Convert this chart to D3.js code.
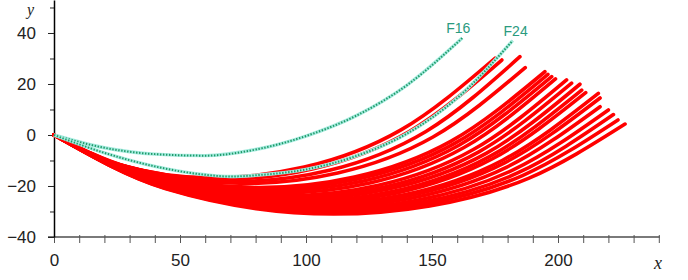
<!DOCTYPE html>
<html>
<head>
<meta charset="utf-8">
<script src="https://cdn.jsdelivr.net/npm/d3@7"></script>
<style>
  body { margin: 0; background: #fff; }
  svg { display: block; }
  .tick text { font-family: "Liberation Sans", Arial, sans-serif; font-size: 17px; fill: #222; }
</style>
</head>
<body>
<div id="chart"></div>
<script>
// axis ticks
const xMajorTicks = [0, 50, 100, 150, 200];
const xMinorTicks = d3.range(0, 241, 10);
const yMajorTicks = [-40, -20, 0, 20, 40];
const yMinorTicks = [-30, -10, 10, 30, 50];

// dotted reference curves
const f16X = [0, 20, 40, 60, 80, 100, 120, 140, 162];
const f16Y = [0, -5, -7.5, -8.1, -5.7, -0.4, 7.6, 19.5, 38];
const f24X = [0, 20, 40, 60, 70, 80, 100, 120, 140, 160, 182];
const f24Y = [0, -7, -12.3, -15.6, -16.3, -15.8, -13.5, -8.2, 0.5, 14.5, 37];
const greenNames = ['F16', 'F24'];
const greenLabelShift = [-4, 3]; // label offset from line end, in px

// red trajectories: start, left side, lowest point, two points on the rise, end
const redCurves = [
  [[0, 0], [24.8, -11.4], [62, -16.8], [99.3, -12.6], [137.7, 2.0], [175.0, 30.1]],
  [[0, 0], [26.4, -11.8], [66, -17.4], [102.9, -13.2], [140.8, 1.3], [177.7, 29.4]],
  [[0, 0], [28.8, -12.4], [72, -18.2], [109.3, -13.8], [147.6, 1.4], [184.9, 30.7]],
  [[0, 0], [30.4, -12.9], [76, -19.0], [112.6, -14.9], [150.4, -0.8], [187.0, 26.4]],
  [[0, 0], [32.8, -14.0], [82, -20.6], [119.2, -16.5], [157.6, -2.4], [194.8, 24.8]],
  [[0, 0], [33.6, -14.5], [84, -21.3], [121.0, -17.2], [159.0, -3.3], [196.0, 23.8]],
  [[0, 0], [34.4, -15.0], [86, -22.0], [122.8, -18.0], [160.7, -4.0], [197.5, 22.9]],
  [[0, 0], [35.6, -15.5], [89, -22.8], [125.3, -18.8], [162.7, -4.9], [199.0, 22.0]],
  [[0, 0], [36.8, -16.2], [92, -23.8], [128.8, -19.7], [166.6, -5.6], [203.4, 21.6]],
  [[0, 0], [37.6, -16.7], [94, -24.5], [130.8, -20.5], [168.6, -6.6], [205.4, 20.3]],
  [[0, 0], [38.4, -17.1], [96, -25.2], [133.2, -21.1], [171.5, -7.2], [208.7, 19.9]],
  [[0, 0], [39.2, -17.7], [98, -26.0], [134.8, -22.1], [172.6, -8.6], [209.4, 17.6]],
  [[0, 0], [39.6, -18.1], [99, -26.6], [136.0, -22.7], [174.0, -9.3], [211.0, 16.6]],
  [[0, 0], [40.4, -18.6], [101, -27.3], [139.0, -23.4], [178.0, -9.9], [216.0, 16.3]],
  [[0, 0], [40.8, -18.9], [102, -27.8], [139.9, -24.0], [178.8, -10.9], [216.7, 14.5]],
  [[0, 0], [41.6, -19.4], [104, -28.5], [141.2, -24.9], [179.5, -12.7], [216.7, 11.1]],
  [[0, 0], [42.4, -19.9], [106, -29.2], [143.6, -25.7], [182.4, -13.6], [220.0, 9.8]],
  [[0, 0], [43.2, -20.3], [108, -29.8], [145.6, -26.4], [184.4, -14.7], [222.0, 8.0]],
  [[0, 0], [43.6, -20.7], [109, -30.4], [146.9, -27.1], [185.9, -15.9], [223.8, 5.9]],
  [[0, 0], [44.4, -21.1], [111, -31.0], [149.1, -27.8], [188.5, -16.9], [226.6, 4.3]]
];

const width = 688;
const height = 280;

const svg = d3.select('#chart')
  .append('svg')
  .attr('width', width)
  .attr('height', height);

const x = d3.scaleLinear().domain([0, 240]).range([54, 658.8]);
const y = d3.scaleLinear().domain([-40, 52.94]).range([237, 0]);

const fmt = (d) => (d < 0 ? '\u2212' + (-d) : String(d));

// x axis: grey base line, small ticks, labels every 50
svg.append('line')
  .attr('x1', x(0) - 6).attr('x2', x(240) + 1)
  .attr('y1', y(-40)).attr('y2', y(-40))
  .attr('stroke', '#7a7a7a')
  .attr('stroke-width', 2);

svg.append('g')
  .attr('transform', `translate(0, ${y(-40)})`)
  .call(d3.axisBottom(x).tickValues(xMinorTicks).tickSize(6).tickFormat(''))
  .call((g) => g.select('.domain').remove())
  .call((g) => g.selectAll('.tick line').attr('stroke', '#555').attr('y1', -2));

svg.append('g')
  .attr('transform', `translate(0, ${y(-40)})`)
  .call(d3.axisBottom(x).tickValues(xMajorTicks).tickSize(6).tickPadding(11).tickFormat(fmt))
  .call((g) => g.select('.domain').remove())
  .call((g) => g.selectAll('.tick line').remove());

// y axis
svg.append('g')
  .attr('transform', `translate(${x(0)}, 0)`)
  .call(d3.axisLeft(y).tickValues(yMinorTicks).tickSize(4).tickSizeOuter(0).tickFormat(''))
  .call((g) => g.select('.domain').remove())
  .call((g) => g.selectAll('.tick line').attr('stroke', '#222'));

svg.append('g')
  .attr('transform', `translate(${x(0)}, 0)`)
  .call(d3.axisLeft(y).tickValues(yMajorTicks).tickSize(6).tickSizeOuter(0).tickPadding(12).tickFormat(fmt))
  .call((g) => g.select('.domain').attr('stroke', '#000').attr('stroke-width', 1.5))
  .call((g) => g.selectAll('.tick line').attr('stroke', '#222'));

// axis names
svg.append('text')
  .attr('x', 34).attr('y', 15)
  .attr('text-anchor', 'end')
  .attr('font-family', '"Liberation Serif", "DejaVu Serif", serif')
  .attr('font-style', 'italic')
  .attr('font-size', 16)
  .attr('fill', '#222')
  .text('y');

svg.append('text')
  .attr('x', 658).attr('y', 269)
  .attr('text-anchor', 'middle')
  .attr('font-family', '"Liberation Serif", "DejaVu Serif", serif')
  .attr('font-style', 'italic')
  .attr('font-size', 18)
  .attr('fill', '#222')
  .text('x');

const line = d3.line()
  .x((d) => x(d[0]))
  .y((d) => y(d[1]))
  .curve(d3.curveMonotoneX);

// red trajectories
svg.append('g')
  .selectAll('path')
  .data(redCurves)
  .join('path')
  .attr('d', line)
  .attr('fill', 'none')
  .attr('stroke', '#ff0000')
  .attr('stroke-width', 3.6)
  .attr('stroke-linecap', 'round');

// green dotted curves on top
const greens = [
  f16X.map((v, i) => [v, f16Y[i]]),
  f24X.map((v, i) => [v, f24Y[i]])
];

const gG = svg.append('g');
greens.forEach((pts, k) => {
  gG.append('path')
    .attr('d', line(pts))
    .attr('fill', 'none')
    .attr('stroke', '#a6ebdf')
    .attr('stroke-width', 3.4);
  gG.append('path')
    .attr('d', line(pts))
    .attr('fill', 'none')
    .attr('stroke', '#1f9a68')
    .attr('stroke-width', 2)
    .attr('stroke-dasharray', '1.4,1.6');
  const last = pts[pts.length - 1];
  gG.append('text')
    .attr('x', x(last[0]) + greenLabelShift[k])
    .attr('y', y(last[1]) - 5)
    .attr('text-anchor', 'middle')
    .attr('font-family', '"Liberation Sans", Arial, sans-serif')
    .attr('font-size', 14)
    .attr('fill', '#2a9a7e')
    .text(greenNames[k]);
});
</script>
</body>
</html>
